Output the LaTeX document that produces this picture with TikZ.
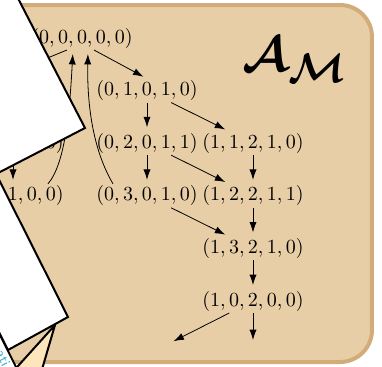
\documentclass[tikz,border=0pt]{standalone}
\usepackage{bm}
\usetikzlibrary{arrows.meta,calc}
\definecolor{bgfill}{HTML}{E8CEA6}
\definecolor{bgline}{HTML}{D3AC7B}
\definecolor{cream}{HTML}{FDE5BC}
\definecolor{paperblue}{HTML}{4AAAD6}
\begin{document}
\begin{tikzpicture}[x=0.5pt,y=-0.5pt,
  state/.style={inner sep=1pt, outer sep=0pt},
  arr/.style={-{Latex[length=5.2pt,width=3.6pt]}, shorten >=2pt},
  paper/.style={draw=black, line width=1pt, fill=white, line join=miter}]
\useasboundingbox (0,0) rectangle (382,366);
\clip (0,0) rectangle (382,366);
\draw[bgline, fill=bgfill, line width=2pt, rounded corners=16pt] (-300,5) rectangle (372,362);

% title
\node[anchor=base west, inner sep=0pt] (title) at (242,71) {\fontsize{28}{30}\selectfont $\bm{\mathcal{A}}_{\bm{\mathcal{M}}}$};

% states
\node[state] (n0) at (82,38)    {$(0, 0, 0, 0, 0)$};
\node[state] (n1) at (147,90.6) {$(0, 1, 0, 1, 0)$};
\node[state] (n2) at (147,143.2) {$(0, 2, 0, 1, 1)$};
\node[state] (n3) at (147,195.8) {$(0, 3, 0, 1, 0)$};
\node[state] (m1) at (253,143.2) {$(1, 1, 2, 1, 0)$};
\node[state] (m2) at (253,195.8) {$(1, 2, 2, 1, 1)$};
\node[state] (m3) at (253,248.4) {$(1, 3, 2, 1, 0)$};
\node[state] (m4) at (253,301)   {$(1, 0, 2, 0, 0)$};
\node[state] (l2) at (13,143.2)  {$(1, 0, 0, 1, 0)$};
\node[state] (l3) at (13,195.8)  {$(1, 0, 1, 0, 0)$};
\coordinate (lhid) at (1,77);
\coordinate (e1) at (170,343);
\coordinate (e2) at (253,344);

% edges
\draw[arr] ([xshift=6pt]n0.south) -- (n1.north);
\draw ([xshift=-7.5pt]n0.south) -- (lhid);
\draw[arr] (n1) -- (n2);
\draw[arr] (n2) -- (n3);
\draw[arr] (n1) -- (m1);
\draw[arr] (n2) -- (m2);
\draw[arr] (n3) -- (m3);
\draw[arr] (m1) -- (m2);
\draw[arr] (m2) -- (m3);
\draw[arr] (m3) -- (m4);
\draw[arr] (m4) -- (e1);
\draw[arr] (m4) -- (e2);
\draw[arr] (l2) -- (l3);
\draw[arr] ([xshift=-17pt]n3.north) .. controls (93,150) and (87,105) .. ([xshift=3pt]n0.south);
\draw[arr] ([xshift=17.5pt]l3.north) .. controls (66,163) and (70,105) .. ([xshift=-4.5pt]n0.south);

% papers
\draw[draw=black, line width=1pt, fill=cream, line join=miter] (55,325) -- (5.4,380) -- (38.9,380) -- cycle;
\draw[paper] (-40,255) -- (30,395) -- (-60,440) -- (-130,300) -- cycle;
\node[rotate=-63, text=paperblue, font=\sffamily\scriptsize, inner sep=0pt] (ptext) at (3,358) {ati};
\draw[paper] (-31,120) -- (68,317) -- (8,350) -- (-91,153) -- cycle;
\draw[paper] (-8,-52) -- (85,128) -- (-85,216) -- (-178,36) -- cycle;
\end{tikzpicture}
\end{document}
